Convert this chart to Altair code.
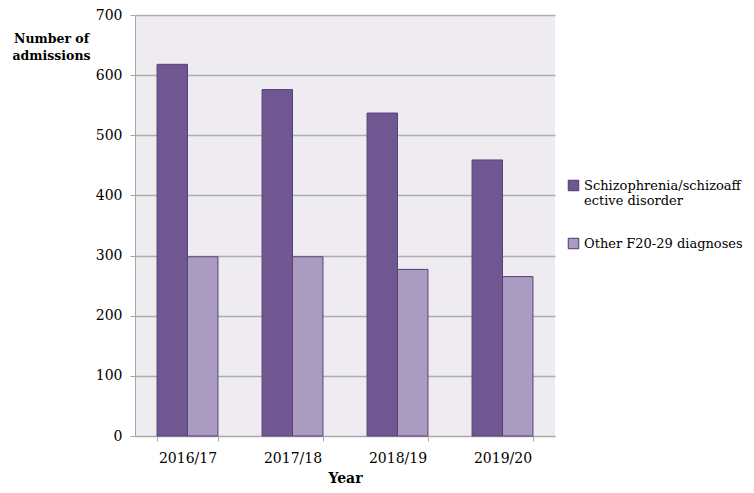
import altair as alt
import pandas as pd

years = ["2016/17", "2017/18", "2018/19", "2019/20"]
series_names = ["Schizophrenia/schizoaffective disorder", "Other F20-29 diagnoses"]
schizo = [618, 576, 537, 459]
other = [298, 298, 277, 265]

rows = []
for i, y in enumerate(years):
    rows.append({"Year": y, "Series": series_names[0], "Admissions": schizo[i]})
    rows.append({"Year": y, "Series": series_names[1], "Admissions": other[i]})
df = pd.DataFrame(rows)

FONT = "DejaVu Serif"

chart = alt.Chart(df).mark_bar(strokeWidth=1).encode(
    x=alt.X("Year:N", sort=years,
            scale=alt.Scale(paddingInner=0.42, paddingOuter=0.21),
            axis=alt.Axis(title="Year", labelAngle=0, tickBand="extent",
                          titleFontWeight="bold", titlePadding=6, labelPadding=10)),
    xOffset=alt.XOffset("Series:N", sort=series_names),
    y=alt.Y("Admissions:Q", scale=alt.Scale(domain=[0, 700]),
            axis=alt.Axis(values=[0, 100, 200, 300, 400, 500, 600, 700],
                          title=["Number of", "admissions"], titleAngle=0,
                          titleAlign="center", titleBaseline="top",
                          titleX=-84, titleY=17, titleFontWeight="bold",
                          titleFontSize=12.5, titleLineHeight=17,
                          labelPadding=8)),
    color=alt.Color("Series:N", sort=series_names,
                    scale=alt.Scale(domain=series_names, range=["#705791", "#A99CC0"]),
                    legend=alt.Legend(
                        title=None, orient="none", legendX=432, legendY=164,
                        symbolType="square", symbolSize=110, symbolStrokeWidth=1,
                        symbolStrokeColor="#4E3A6B",
                        labelLimit=200, labelFontSize=13, rowPadding=28,
                        labelExpr="datum.label == 'Schizophrenia/schizoaffective disorder' ? ['Schizophrenia/schizoaff', 'ective disorder'] : datum.label")),
    stroke=alt.value("#56427A"),
).properties(
    width=420, height=421,
    autosize=alt.AutoSizeParams(type="none"),
    padding={"left": 127, "top": 7, "right": 191, "bottom": 49},
).configure(
    font=FONT,
).configure_view(
    fill="#EEEBF1", stroke=None,
).configure_axis(
    labelFont=FONT, titleFont=FONT, labelFontSize=14, titleFontSize=14,
    labelColor="#000000", titleColor="#000000",
    domainColor="#A6A6A6", tickColor="#A6A6A6", gridColor="#AEAEAE",
    tickSize=5, domainWidth=1, gridWidth=1.5,
).configure_axisX(
    grid=False,
).configure_legend(
    labelFont=FONT, labelColor="#000000",
)

chart.save("out.html", embed_options={"renderer": "svg", "actions": False})
